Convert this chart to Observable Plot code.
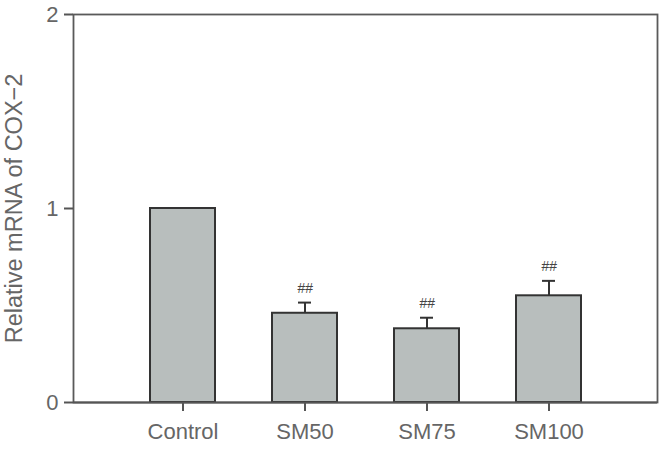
<!DOCTYPE html>
<html>
<head>
<meta charset="utf-8">
<script src="https://cdn.jsdelivr.net/npm/d3@7"></script>
<script src="https://cdn.jsdelivr.net/npm/@observablehq/plot@0.6"></script>
<style>
  html, body { margin: 0; padding: 0; background: #fff; }
  #chart svg { display: block; }
</style>
</head>
<body>
<div id="chart"></div>
<script>
const categories = ["Control", "SM50", "SM75", "SM100"];
const means = [1.0, 0.46, 0.38, 0.55];
const errors = [0, 0.055, 0.057, 0.077];
const marks = ["", "##", "##", "##"];
const yTicks = [0, 1, 2];
const yLabel = "Relative mRNA of COX\u22122";

const data = categories.map((c, i) => ({cat: c, mean: means[i], err: errors[i], mark: marks[i]}));
const withErr = data.filter(d => d.err > 0);

const axisColor = "#555";
const barStroke = "#333";

const chart = Plot.plot({
  width: 662,
  height: 474,
  marginTop: 14,
  marginBottom: 72,
  marginLeft: 73,
  marginRight: 5,
  style: {fontFamily: "'Liberation Sans', Arial, sans-serif", color: "#666", background: "#fff"},
  x: {domain: categories, paddingInner: 0.47, paddingOuter: 0.61, label: null},
  y: {domain: [0, 2], label: null},
  marks: [
    Plot.frame({stroke: "#5a5a5a", strokeWidth: 1.8}),
    Plot.barY(data, {x: "cat", y: "mean", fill: "#b8bebd", stroke: barStroke, strokeWidth: 2}),
    Plot.ruleX(withErr, {x: "cat", y1: "mean", y2: d => d.mean + d.err, stroke: barStroke, strokeWidth: 2}),
    Plot.tickY(withErr, {x: "cat", y: d => d.mean + d.err, stroke: barStroke, strokeWidth: 2, insetLeft: 26, insetRight: 26}),
    Plot.text(withErr, {x: "cat", y: d => d.mean + d.err, text: "mark", dy: -14, fontSize: 14, fontStyle: "italic", fill: "#444"}),
    Plot.ruleY([0], {stroke: axisColor, strokeWidth: 2}),
    Plot.axisY({ticks: yTicks, tickFormat: d3.format("d"), tickSize: 9, tickPadding: 6, fontSize: 22, stroke: axisColor, strokeWidth: 2, label: null}),
    Plot.axisX({tickSize: 9, tickPadding: 12, fontSize: 22, stroke: axisColor, strokeWidth: 2, label: null, style: {letterSpacing: "-0.8px"}}),
    Plot.text([yLabel], {frameAnchor: "left", textAnchor: "middle", dx: -59, rotate: -90, text: d => d, fontSize: 23.5, fill: "#666"})
  ]
});
document.getElementById("chart").appendChild(chart);
</script>
</body>
</html>
